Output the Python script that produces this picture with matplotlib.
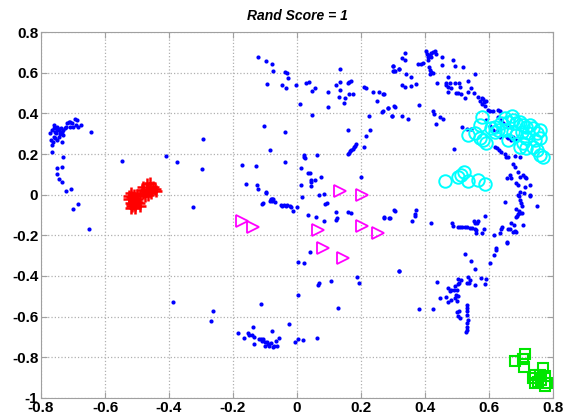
import numpy as np
import matplotlib
matplotlib.use('Agg')
import matplotlib.pyplot as plt
from matplotlib.ticker import FuncFormatter

# cluster 1: blue points (x, y)
blue = np.array([
    # top-left group
    (-0.772, 0.305), (-0.766, 0.318), (-0.761, 0.343), (-0.759, 0.326), (-0.756, 0.31),
    (-0.753, 0.302), (-0.751, 0.318), (-0.749, 0.335), (-0.745, 0.322), (-0.742, 0.31),
    (-0.740, 0.299), (-0.738, 0.326), (-0.735, 0.31), (-0.761, 0.285), (-0.756, 0.277),
    (-0.751, 0.269), (-0.745, 0.285), (-0.769, 0.269), (-0.763, 0.261), (-0.735, 0.261),
    (-0.73, 0.318), (-0.725, 0.326), (-0.719, 0.351), (-0.714, 0.356), (-0.709, 0.359),
    (-0.704, 0.354), (-0.693, 0.371), (-0.688, 0.367), (-0.69, 0.343), (-0.683, 0.335),
    (-0.676, 0.343), (-0.709, 0.331), (-0.701, 0.331), (-0.721, 0.331), (-0.73, 0.294),
    (-0.644, 0.307), (-0.766, 0.208), (-0.765, 0.245), (-0.731, 0.187), (-0.751, 0.13),
    (-0.735, 0.138), (-0.751, 0.102), (-0.743, 0.076), (-0.733, 0.061), (-0.723, 0.02),
    (-0.707, 0.03), (-0.685, -0.046), (-0.699, -0.07), (-0.649, -0.17), (-0.547, 0.166),
    (-0.409, 0.192), (-0.376, 0.162), (-0.295, 0.274), (-0.296, 0.128), (-0.324, -0.059),
    (-0.388, -0.529),
    # upper middle
    (-0.121, 0.676), (-0.097, 0.658), (-0.079, 0.645), (-0.074, 0.61), (-0.038, 0.602),
    (-0.03, 0.599), (-0.027, 0.575), (-0.095, 0.543), (-0.046, 0.541), (-0.034, 0.525),
    (-0.004, 0.538), (0.029, 0.548), (0.038, 0.553), (0.048, 0.51), (0.057, 0.525),
    (0.133, 0.617), (0.098, 0.507), (0.123, 0.538), (0.135, 0.556), (0.16, 0.549),
    (0.163, 0.553), (0.17, 0.558), (0.135, 0.516), (0.132, 0.479), (0.149, 0.474),
    (0.147, 0.451), (0.163, 0.494), (0.176, 0.497), (0.098, 0.431), (0.009, 0.446),
    (0.048, 0.391), (0.21, 0.531), (0.217, 0.526), (0.238, 0.505), (0.256, 0.507),
    (0.271, 0.494), (0.251, 0.461), (0.285, 0.428), (0.305, 0.433), (0.269, 0.41),
    (0.298, 0.389), (0.226, 0.386), (0.301, 0.633), (0.301, 0.61), (0.305, 0.608),
    (0.32, 0.62), (-0.104, 0.338), (-0.038, 0.31), (0.161, 0.32), (0.228, 0.317),
    (0.215, 0.29), (0.21, 0.236), (-0.084, 0.22),
    (0.158, 0.199), (0.162, 0.206), (0.166, 0.213), (0.17, 0.22), (0.174, 0.227),
    (0.178, 0.234), (0.181, 0.241), (0.183, 0.248),
    (0.021, 0.194), (0.023, 0.187), (0.025, 0.18), (0.063, 0.194), (-0.171, 0.145),
    (-0.127, 0.141), (-0.038, 0.159), (0.014, 0.131), (0.036, 0.108), (0.04, 0.108),
    (0.074, 0.089), (0.044, 0.071), (0.045, 0.064), (0.055, 0.071), (0.045, 0.043),
    (0.012, 0.046), (0.2, 0.086), (-0.159, 0.054), (-0.124, 0.046), (-0.123, 0.03),
    (-0.098, 0.012), (-0.096, 0.006), (-0.081, -0.021), (-0.077, -0.022), (0.015, -0.01),
    (0.068, -0.003), (0.083, 0.003),
    # lower middle
    (-0.105, -0.042), (-0.109, -0.045), (-0.085, -0.03), (-0.08, -0.025), (-0.077, -0.033),
    (-0.07, -0.036), (-0.075, -0.02), (-0.05, -0.05), (-0.047, -0.058), (-0.042, -0.053),
    (-0.034, -0.055), (-0.031, -0.05), (-0.021, -0.055), (-0.019, -0.063), (-0.012, -0.08),
    (0.001, -0.059), (0.093, -0.041), (0.089, -0.044), (0.036, -0.101), (0.06, -0.11),
    (0.086, -0.131), (0.121, -0.084), (0.124, -0.117), (0.122, -0.125), (0.16, -0.083),
    (0.168, -0.09), (0.273, -0.113), (0.29, -0.114), (0.305, -0.079), (0.041, -0.282),
    (0.002, -0.331), (0.021, -0.334), (0.319, -0.375), (0.187, -0.406), (0.195, -0.436),
    (0.106, -0.424), (0.07, -0.437), (0.066, -0.447), (0.002, -0.495), (-0.113, -0.538),
    (0.127, -0.557), (-0.261, -0.572), (-0.268, -0.623), (-0.026, -0.639), (-0.077, -0.669),
    (-0.184, -0.679), (-0.167, -0.706), (-0.154, -0.679), (-0.15, -0.693), (-0.142, -0.693),
    (-0.139, -0.649), (-0.134, -0.7), (-0.134, -0.736), (-0.119, -0.71), (-0.113, -0.71),
    (-0.109, -0.718), (-0.105, -0.71), (-0.1, -0.723), (-0.1, -0.743), (-0.095, -0.726),
    (-0.09, -0.734), (-0.087, -0.743), (-0.081, -0.731), (-0.076, -0.752), (-0.072, -0.743),
    (-0.067, -0.718), (-0.062, -0.743), (-0.056, -0.706), (-0.005, -0.723), (0.004, -0.711),
    (0.019, -0.715), (0.063, -0.708),
    # upper right arc
    (0.337, 0.695), (0.327, 0.671), (0.337, 0.663), (0.301, 0.633), (0.303, 0.61),
    (0.318, 0.618), (0.377, 0.641), (0.389, 0.641), (0.394, 0.646), (0.403, 0.709),
    (0.405, 0.692), (0.41, 0.679), (0.415, 0.687), (0.42, 0.695), (0.426, 0.704),
    (0.431, 0.709), (0.436, 0.692), (0.42, 0.676), (0.41, 0.663), (0.413, 0.63),
    (0.415, 0.613), (0.42, 0.605), (0.426, 0.597), (0.415, 0.592), (0.452, 0.679),
    (0.452, 0.638), (0.488, 0.663), (0.493, 0.633), (0.519, 0.63), (0.558, 0.594),
    (0.473, 0.581), (0.478, 0.548), (0.467, 0.54), (0.473, 0.531), (0.483, 0.523),
    (0.493, 0.551), (0.507, 0.548), (0.509, 0.531), (0.34, 0.592), (0.355, 0.577),
    (0.327, 0.54), (0.337, 0.531), (0.355, 0.536), (0.372, 0.543), (0.438, 0.551),
    (0.465, 0.551), (0.473, 0.504), (0.497, 0.499), (0.504, 0.502), (0.514, 0.495),
    (0.525, 0.474), (0.535, 0.507), (0.535, 0.561), (0.545, 0.523), (0.554, 0.502),
    (0.566, 0.482), (0.571, 0.463), (0.577, 0.474), (0.582, 0.469), (0.584, 0.458),
    (0.59, 0.463), (0.577, 0.446), (0.587, 0.438), (0.598, 0.417), (0.603, 0.413),
    (0.613, 0.413), (0.629, 0.417), (0.634, 0.413), (0.269, 0.494), (0.267, 0.409),
    (0.285, 0.428), (0.304, 0.436), (0.298, 0.387), (0.329, 0.387), (0.348, 0.371),
    (0.382, 0.441), (0.426, 0.413), (0.429, 0.397), (0.447, 0.381), (0.457, 0.371),
    (0.436, 0.346), (0.516, 0.335), (0.532, 0.322), (0.545, 0.323), (0.49, 0.225),
    (0.592, 0.368), (0.603, 0.338), (0.629, 0.381), (0.639, 0.368), (0.644, 0.351),
    (0.655, 0.343), (0.67, 0.331), (0.655, 0.286), (0.66, 0.277), (0.676, 0.286),
    (0.67, 0.269), (0.613, 0.318), (0.624, 0.315), (0.634, 0.286), (0.686, 0.269),
    (0.618, 0.236), (0.624, 0.228), (0.632, 0.22), (0.639, 0.212), (0.65, 0.2),
    (0.653, 0.184), (0.66, 0.187), (0.681, 0.19), (0.697, 0.187), (0.676, 0.151),
    (0.681, 0.138), (0.691, 0.113), (0.697, 0.089), (0.707, 0.097), (0.712, 0.089),
    (0.717, 0.081), (0.686, 0.056), (0.691, 0.048), (0.67, 0.081), (0.655, 0.081),
    (0.665, 0.097), (0.712, 0.04), (0.728, 0.048), (0.697, 0.015), (0.709, 0.01),
    (0.728, -0.001), (0.691, -0.001),
    # lower right
    (0.728, -0.007), (0.694, -0.007), (0.697, -0.026), (0.699, -0.043), (0.702, -0.056),
    (0.65, -0.034), (0.749, -0.056), (0.686, -0.072), (0.694, -0.079), (0.702, -0.088),
    (0.691, -0.095), (0.697, -0.092), (0.684, -0.108), (0.688, -0.105), (0.67, -0.141),
    (0.678, -0.149), (0.707, -0.149), (0.665, -0.17), (0.66, -0.17), (0.674, -0.182),
    (0.686, -0.182), (0.681, -0.177), (0.642, -0.161), (0.639, -0.17), (0.634, -0.187),
    (0.616, -0.198), (0.655, -0.231), (0.658, -0.236), (0.621, -0.264), (0.621, -0.272),
    (0.616, -0.297), (0.603, -0.338), (0.588, -0.103), (0.584, -0.17), (0.577, -0.187),
    (0.561, -0.187), (0.553, -0.128), (0.566, -0.128), (0.563, -0.141), (0.556, -0.141),
    (0.561, -0.174), (0.502, -0.157), (0.509, -0.159), (0.517, -0.159), (0.525, -0.161),
    (0.532, -0.161), (0.54, -0.163), (0.548, -0.165), (0.556, -0.17), (0.486, -0.141),
    (0.488, -0.154), (0.418, -0.141), (0.372, -0.075), (0.37, -0.097), (0.368, -0.103),
    (0.361, -0.129), (0.304, -0.075), (0.288, -0.113), (0.271, -0.111), (0.318, -0.375),
    (0.525, -0.293), (0.545, -0.326), (0.558, -0.367), (0.536, -0.407), (0.54, -0.42),
    (0.575, -0.411), (0.592, -0.416), (0.588, -0.438), (0.558, -0.444), (0.538, -0.436),
    (0.532, -0.433), (0.504, -0.416), (0.514, -0.42), (0.507, -0.433), (0.502, -0.439),
    (0.493, -0.452), (0.49, -0.469), (0.483, -0.469), (0.473, -0.461), (0.478, -0.474),
    (0.499, -0.469), (0.496, -0.493), (0.504, -0.498), (0.493, -0.51), (0.501, -0.523),
    (0.465, -0.502), (0.473, -0.526), (0.483, -0.518), (0.439, -0.431), (0.447, -0.507),
    (0.382, -0.562), (0.426, -0.562), (0.499, -0.58), (0.507, -0.572), (0.504, -0.597),
    (0.509, -0.605), (0.53, -0.542), (0.531, -0.558), (0.532, -0.575), (0.533, -0.592),
    (0.534, -0.616), (0.533, -0.633), (0.532, -0.649), (0.53, -0.666), (0.528, -0.674),
])

# cluster 2: red plus signs
red = np.array([
    (-0.52, 0.01), (-0.515, -0.01), (-0.51, -0.03), (-0.505, -0.05), (-0.52, -0.04),
    (-0.525, -0.02), (-0.5, -0.02), (-0.495, -0.04), (-0.51, 0.0), (-0.505, -0.065),
    (-0.515, -0.055), (-0.5, 0.0), (-0.52, -0.065), (-0.49, -0.055), (-0.525, -0.005),
    (-0.51, -0.015), (-0.5, -0.035), (-0.515, -0.045),
    (-0.48, 0.04), (-0.47, 0.05), (-0.46, 0.03), (-0.455, 0.01), (-0.47, 0.02),
    (-0.48, 0.01), (-0.465, 0.0), (-0.45, 0.04), (-0.44, 0.02), (-0.485, 0.025),
    (-0.46, 0.055), (-0.475, -0.005), (-0.445, 0.03), (-0.49, 0.0),
])

# cluster 3: magenta triangles
magenta = np.array([
    (-0.173, -0.129), (-0.139, -0.157), (0.067, -0.174), (0.082, -0.264), (0.143, -0.313),
    (0.202, -0.154), (0.254, -0.187), (0.136, 0.02), (0.204, -0.001),
])

# cluster 4: cyan circles
cyan = np.array([
    (0.577, 0.381), (0.571, 0.343), (0.535, 0.294), (0.556, 0.302), (0.571, 0.277),
    (0.592, 0.256), (0.582, 0.269), (0.608, 0.327), (0.618, 0.335), (0.629, 0.318),
    (0.639, 0.351), (0.65, 0.376), (0.66, 0.359), (0.671, 0.387), (0.676, 0.368),
    (0.686, 0.351), (0.697, 0.359), (0.707, 0.343), (0.717, 0.335), (0.728, 0.343),
    (0.738, 0.327), (0.759, 0.318), (0.749, 0.302), (0.759, 0.277), (0.743, 0.269),
    (0.717, 0.277), (0.707, 0.253), (0.697, 0.236), (0.717, 0.228), (0.738, 0.236),
    (0.749, 0.22), (0.759, 0.195), (0.769, 0.187), (0.676, 0.31), (0.686, 0.294),
    (0.65, 0.318), (0.66, 0.269), (0.618, 0.31), (0.702, 0.31), (0.723, 0.302),
    (0.462, 0.069), (0.504, 0.089), (0.523, 0.113), (0.535, 0.068), (0.566, 0.072),
    (0.587, 0.053), (0.514, 0.097),
])

# cluster 5: green squares
green = np.array([
    (0.681, -0.821), (0.705, -0.81), (0.714, -0.784), (0.709, -0.846), (0.743, -0.887),
    (0.769, -0.854), (0.775, -0.895), (0.754, -0.92), (0.775, -0.944), (0.743, -0.928),
    (0.764, -0.911), (0.78, -0.928), (0.759, -0.887), (0.738, -0.903),
])

xticks = np.arange(-0.8, 0.81, 0.2)
yticks = np.arange(-1.0, 0.81, 0.2)

plt.rcParams['font.family'] = ['Liberation Sans', 'DejaVu Sans']

fig = plt.figure(figsize=(5.7, 4.17), dpi=100)
ax = fig.add_axes([0.072, 0.046, 0.898, 0.877])

ax.plot(blue[:, 0], blue[:, 1], 'o', color=(0, 0, 1), ms=3, mew=0)
ax.plot(red[:, 0], red[:, 1], '+', color=(1, 0, 0), ms=8, mew=1.8)
ax.plot(magenta[:, 0], magenta[:, 1], '>', color=(1, 0, 1), ms=9, mfc='none', mew=1.3)
ax.plot(cyan[:, 0], cyan[:, 1], 'o', color=(0, 1, 1), ms=9, mfc='none', mew=1.4)
ax.plot(green[:, 0], green[:, 1], 's', color=(0, 0.9, 0), ms=7, mfc='none', mew=1.5)

ax.set_xlim(-0.8, 0.8)
ax.set_ylim(-1, 0.8)
ax.set_xticks(xticks)
ax.set_yticks(yticks)


def tick_text(v, pos):
    v = round(v, 2)
    if abs(v) < 1e-9:
        return '0'
    return '%g' % v


fmt = FuncFormatter(tick_text)
ax.xaxis.set_major_formatter(fmt)
ax.yaxis.set_major_formatter(fmt)
ax.tick_params(direction='in', length=4, color='#a0a0a0', top=True, right=True,
               labelsize=11, pad=2)
for lab in ax.get_xticklabels() + ax.get_yticklabels():
    lab.set_fontweight('bold')
for s in ax.spines.values():
    s.set_color('#a0a0a0')
ax.grid(True, linestyle=':', color='#b0b0b0', linewidth=0.9)
ax.set_axisbelow(True)

ax.set_title('Rand Score = 1', fontsize=10, fontweight='bold', fontstyle='italic', pad=9)

fig.savefig('out.png', dpi=100)
